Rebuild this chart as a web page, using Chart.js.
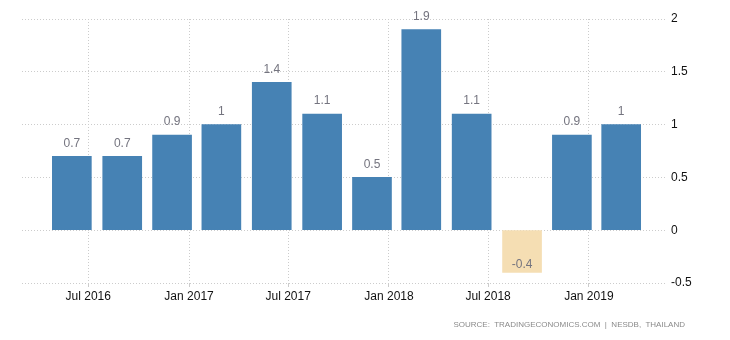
<!DOCTYPE html>
<html>
<head>
<meta charset="utf-8">
<script src="https://cdn.jsdelivr.net/npm/chart.js@4"></script>
<style>
    html, body { margin: 0; padding: 0; background: #fff; }
    #wrap { position: relative; width: 730px; height: 340px; }
    #source { position: absolute; right: 45px; top: 320px; font: 8px "Liberation Sans", Arial, sans-serif; color: #8a8a8a; white-space: nowrap; }
</style>
</head>
<body>
<div id="wrap">
    <canvas id="chart" width="730" height="340"></canvas>
    <div id="source">SOURCE:&nbsp; TRADINGECONOMICS.COM&nbsp; |&nbsp; NESDB,&nbsp; THAILAND</div>
</div>
<script>
// --- Data ---
const periods = ['2016-06', '2016-09', '2016-12', '2017-03', '2017-06', '2017-09',
                 '2017-12', '2018-03', '2018-06', '2018-09', '2018-12', '2019-03'];
const values = [0.7, 0.7, 0.9, 1, 1.4, 1.1, 0.5, 1.9, 1.1, -0.4, 0.9, 1];
const tickDates = ['2016-07', '2017-01', '2017-07', '2018-01', '2018-07', '2019-01'];
const tickLabels = ['Jul 2016', 'Jan 2017', 'Jul 2017', 'Jan 2018', 'Jul 2018', 'Jan 2019'];
const yTicks = [-0.5, 0, 0.5, 1, 1.5, 2];

// day number of the first of a month
const toDay = s => { const [y, m] = s.split('-').map(Number); return Date.UTC(y, m - 1, 1) / 86400000; };

const FONT = '"Liberation Sans", Arial, sans-serif';

// value labels above / inside the bars
const barLabels = {
    id: 'barLabels',
    afterDatasetsDraw(chart) {
        const ctx = chart.ctx;
        const meta = chart.getDatasetMeta(0);
        ctx.save();
        ctx.font = '12px ' + FONT;
        ctx.fillStyle = '#74747f';
        ctx.textAlign = 'center';
        ctx.textBaseline = 'middle';
        meta.data.forEach((bar, i) => {
            const v = values[i];
            ctx.fillText(String(v), bar.x, v < 0 ? bar.y - 8 : bar.y - 13);
        });
        ctx.restore();
    }
};

new Chart(document.getElementById('chart').getContext('2d'), {
    type: 'bar',
    data: {
        datasets: [{
            data: periods.map((p, i) => ({ x: toDay(p), y: values[i] })),
            backgroundColor: values.map(v => v < 0 ? '#f5deb3' : '#4682b4'),
            borderWidth: 0,
            barThickness: 39
        }]
    },
    options: {
        responsive: false,
        animation: false,
        layout: { padding: { left: 22, top: 19, right: 0, bottom: 0 } },
        plugins: { legend: { display: false }, tooltip: { enabled: false } },
        scales: {
            x: {
                type: 'linear',
                offset: false,
                min: toDay('2016-07') - 121,
                max: toDay('2019-01') + 139,
                afterBuildTicks: scale => { scale.ticks = tickDates.map(d => ({ value: toDay(d) })); },
                afterFit: scale => { scale.height = 57; },
                grid: { offset: false, color: '#cccccc', lineWidth: 1, tickLength: 4, drawTicks: true },
                border: { display: false, dash: [1, 2] },
                ticks: {
                    autoSkip: false, maxRotation: 0, padding: 2,
                    color: '#111', font: { family: FONT, size: 12 },
                    callback: (v, i) => tickLabels[i]
                }
            },
            y: {
                position: 'right',
                min: -0.5, max: 2,
                afterBuildTicks: scale => { scale.ticks = yTicks.map(v => ({ value: v })); },
                afterFit: scale => { scale.width = 65; },
                grid: { color: '#cccccc', lineWidth: 1, drawTicks: false },
                border: { display: false, dash: [1, 2] },
                ticks: {
                    padding: 6, color: '#111', font: { family: FONT, size: 12 },
                    callback: v => String(v)
                }
            }
        }
    },
    plugins: [barLabels]
});
</script>
</body>
</html>
